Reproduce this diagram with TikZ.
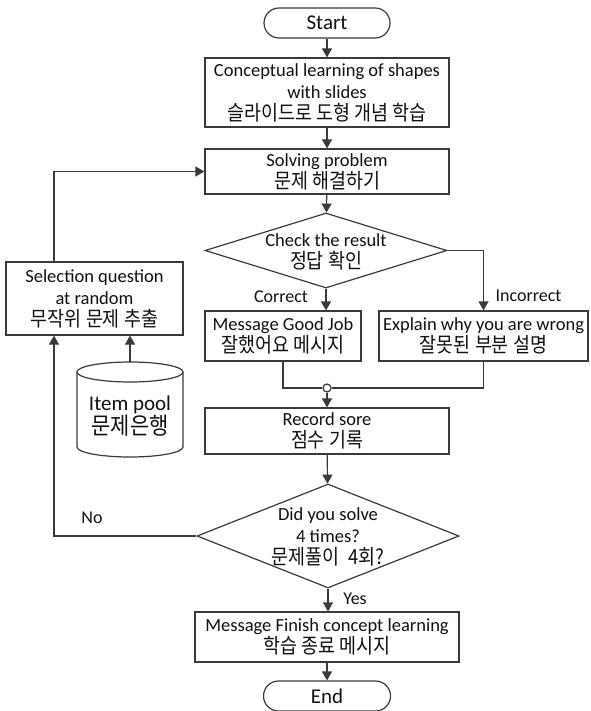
\documentclass[tikz,border=0pt]{standalone}
\usepackage{fontspec}
\setmainfont{Carlito}
\newfontfamily\kr[Scale=1.12, FakeStretch=0.89]{Noto Sans CJK KR}
\usetikzlibrary{arrows.meta,shapes.geometric}

\definecolor{lc}{HTML}{3A3A3A}
\definecolor{tc}{HTML}{111111}

\tikzset{
  base/.style={draw=lc, line width=1.2pt, fill=white, text=tc, align=center, inner sep=0pt,
               font=\fontsize{18.5}{22}\selectfont},
  procbox/.style={base, rectangle},
  term/.style={base, rectangle, rounded corners=15pt, font=\fontsize{21}{24}\selectfont},
  decide/.style={base, diamond},
  txt/.style={text=tc, align=center, inner sep=0pt, font=\fontsize{18.5}{22}\selectfont},
  lbl/.style={text=tc, inner sep=0pt, font=\fontsize{18}{22}\selectfont},
  arr/.style={draw=lc, line width=1.2pt, -{Triangle[width=10pt,length=9pt]}},
  ln/.style={draw=lc, line width=1.2pt},
}

\begin{document}
\begin{tikzpicture}[x=1pt, y=-1pt]
\useasboundingbox (0,0) rectangle (590,711);

% main column
\node[term, minimum width=126pt, minimum height=30pt] (start) at (327,23) {Start};
\node[procbox, minimum width=244pt, minimum height=69pt] (concept) at (327,92.5)
  {Conceptual learning of shapes\\with slides\\{\kr 슬라이드로 도형 개념 학습}};
\node[procbox, minimum width=244pt, minimum height=45pt] (solve) at (327,171.5)
  {Solving problem\\{\kr 문제 해결하기}};
\node[decide, minimum width=242pt, minimum height=75pt] (check) at (326,250.5) {};
\node[txt] (checkt) at (326,252) {Check the result\\{\kr 정답 확인}};

\node[procbox, minimum width=156pt, minimum height=50pt] (good) at (283,336)
  {Message Good Job\\{\kr 잘했어요 메시지}};
\node[procbox, minimum width=209pt, minimum height=50pt] (wrong) at (483.5,336)
  {Explain why you are wrong\\{\kr 잘못된 부분 설명}};

\node[circle, draw=lc, line width=1.2pt, fill=white, minimum size=8pt, inner sep=0pt] (merge) at (327,388) {};

\node[procbox, minimum width=244pt, minimum height=46pt] (record) at (327,431)
  {Record sore\\{\kr 점수 기록}};
\node[decide, minimum width=262pt, minimum height=104pt] (times) at (328,536) {};
\node[txt] (timest) at (328,537) {Did you solve\\4 times?\\{\kr 문제풀이\ \ 4회?}};

\node[procbox, minimum width=264pt, minimum height=50pt] (finish) at (327,637)
  {Message Finish concept learning\\{\kr 학습 종료 메시지}};
\node[term, minimum width=127pt, minimum height=30pt] (end) at (327,696) {End};

% question selection and item pool
\node[procbox, minimum width=177pt, minimum height=73pt] (select) at (94.5,298.5)
  {Selection question\\at random\\{\kr 무작위 문제 추출}};

\draw[ln, fill=white] (77,372) -- (77,447) arc[start angle=180, end angle=0, x radius=53, y radius=10]
  -- (183,372) arc[start angle=0, end angle=-180, x radius=53, y radius=10] -- cycle;
\draw[ln] (77,372) arc[start angle=180, end angle=0, x radius=53, y radius=10];
\coordinate (pooltop) at (130,362);
\node[txt, font=\fontsize{21}{22}\selectfont] (pool) at (130,416) {Item pool\\{\kr 문제은행}};

% connectors
\draw[arr] (start) -- (concept);
\draw[arr] (concept) -- (solve);
\draw[arr] (solve) -- (check);
\draw[arr] (check.south) -- (check.south |- good.north);
\draw[arr] (check.east) -| (wrong.north);
\draw[ln] (good.south) |- (merge.west);
\draw[ln] (wrong.south) |- (merge.east);
\draw[arr] (merge) -- (record);
\draw[arr] (record) -- (times);
\draw[arr] (times.south) -- (times.south |- finish.north);
\draw[arr] (finish) -- (end);

\coordinate (loop) at (54,536);
\draw[arr] (times.west) -- (loop) -- (loop |- select.south);
\draw[arr] (loop |- select.north) |- (solve.west);
\draw[arr] (pooltop) -- (pooltop |- select.south);

% branch labels
\node[lbl] at (281,297) {Correct};
\node[lbl] at (528.5,296) {Incorrect};
\node[lbl] at (92,518) {No};
\node[lbl] at (355,599) {Yes};
\end{tikzpicture}
\end{document}
